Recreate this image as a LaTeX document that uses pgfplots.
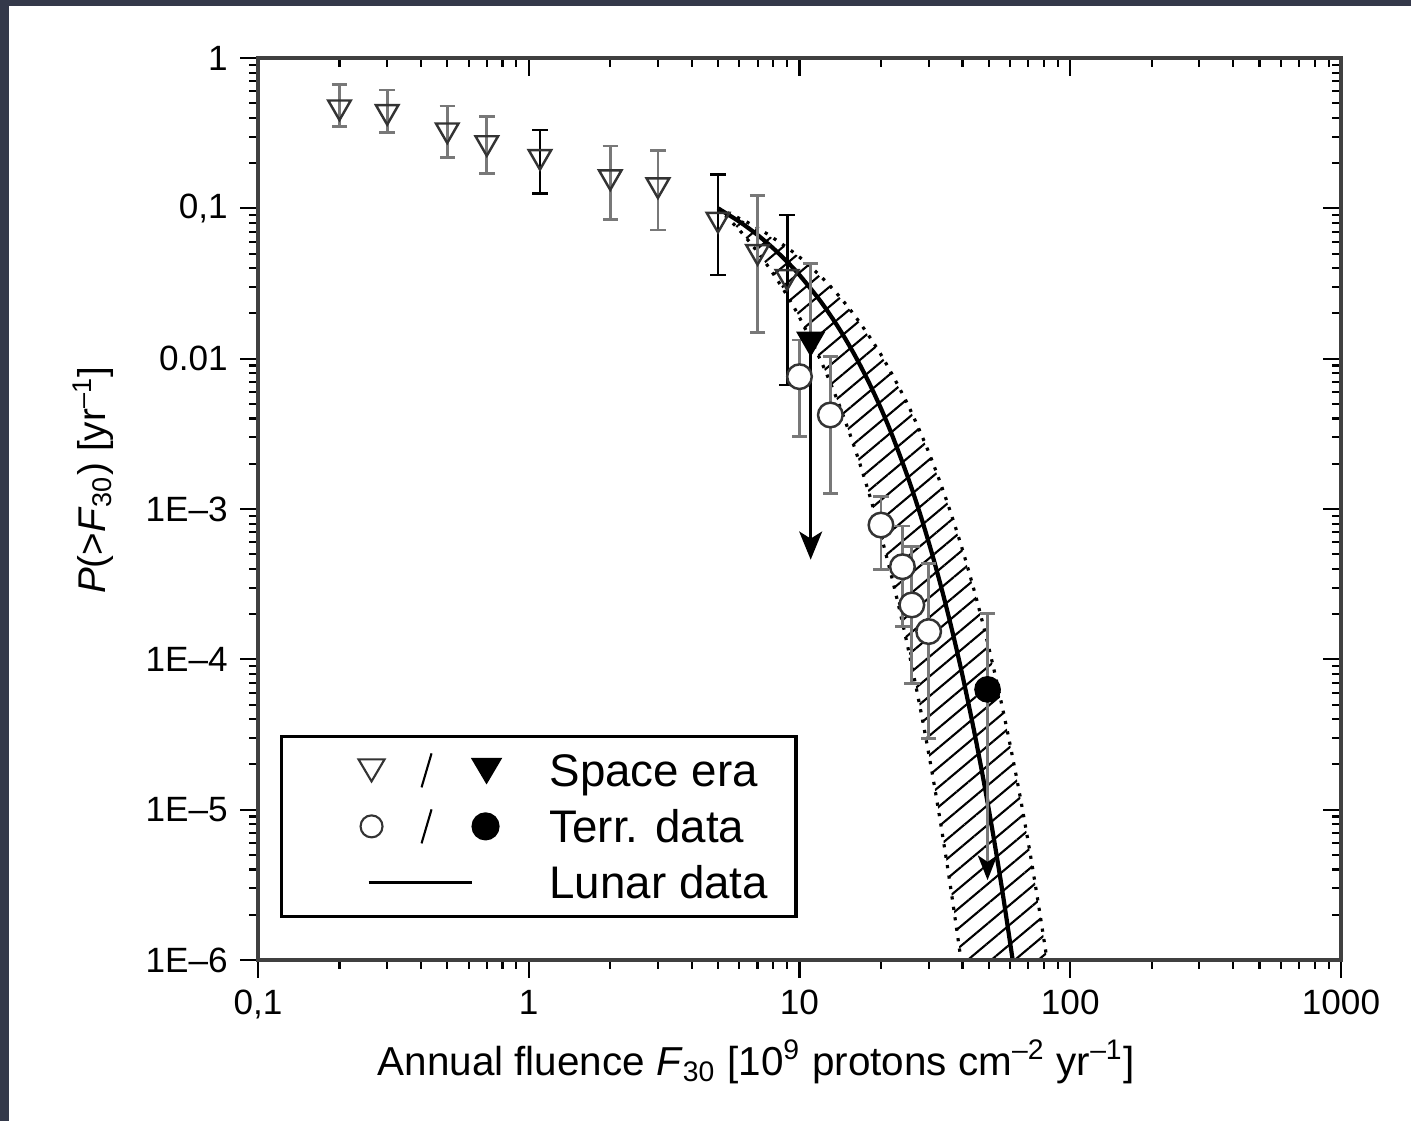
\documentclass[border=0pt]{standalone}
\usepackage{fontspec}
\setmainfont{Liberation Sans}
\usepackage{pgfplots}
\pgfplotsset{compat=1.18}
\usetikzlibrary{patterns.meta, arrows.meta}
\definecolor{bgdark}{RGB}{52,57,74}
\definecolor{errgray}{RGB}{120,120,120}

\begin{document}
\begin{tikzpicture}
\useasboundingbox (-2.58,-1.61) rectangle (11.53,9.60);
\fill[bgdark] (-2.58,-1.61) rectangle (11.53,9.60);
\fill[white] (-2.49,-1.61) rectangle (11.53,9.54);

\begin{axis}[
  at={(0,0)}, anchor=south west,
  scale only axis, width=10.83cm, height=9.02cm,
  xmode=log, ymode=log,
  xmin=0.1, xmax=1000, ymin=1e-6, ymax=1,
  xtick={0.1,1,10,100,1000},
  ytick={1e-6,1e-5,1e-4,1e-3,1e-2,1e-1,1},
  major tick length=1.8mm, minor tick length=0.9mm,
  tick style={black, line width=0.6pt},
  axis line style={black!75, line width=0.9pt},
  xticklabels={{0,1},1,10,100,1000},
  yticklabels={1E--6,1E--5,1E--4,1E--3,0.01,{0,1},1},
  xtick pos=left, ytick pos=left,
  tick align=outside,
  ticklabel style={font=\fontsize{10}{12}\selectfont},
  xlabel={Annual fluence \textit{F}\textsubscript{30} [10\textsuperscript{9} protons cm\textsuperscript{--2} yr\textsuperscript{--1}]},
  xlabel style={at={(axis description cs:0.46,-0.1275)}, anchor=base, font=\fontsize{11.5}{14}\selectfont},
  ylabel={\textit{P}(>\textit{F}\textsubscript{30}) [yr\textsuperscript{--1}]},
  ylabel style={at={(axis description cs:-0.152,0.532)}, anchor=center, font=\fontsize{11}{13}\selectfont},
  legend cell align=left,
  legend style={at={(0.0203,0.0466)}, anchor=south west, draw=black, line width=0.9pt, fill=white,
    inner xsep=0pt, inner ysep=0.06cm, row sep=0pt,
    font=\fontsize{13}{15}\selectfont,
    nodes={inner sep=0pt, text height=0.33cm, text depth=0pt}},
]

% hatched band
\addplot[forget plot, draw=none, pattern={Lines[angle=40, distance=4.3pt, line width=0.6pt]}] coordinates {
(5,0.1) (6,0.0716) (7,0.0513) (8,0.0367) (9,0.0263) (10,0.0188) (12,0.00966) (14,0.00495)
(16,0.00254) (18,0.00130) (20,6.68e-4) (22,3.43e-4) (24,1.76e-4) (26,9.02e-5) (28,4.62e-5)
(30,2.37e-5) (32,1.22e-5) (34,6.24e-6) (36,3.20e-6) (38,1.64e-6) (39.5,1e-6)
(82.1,1e-6) (80,1.36e-6) (75,2.86e-6) (70,6.05e-6) (65,1.28e-5) (60,2.69e-5) (55,5.69e-5)
(50,1.20e-4) (45,2.54e-4) (40,5.35e-4) (35,1.13e-3) (30,2.39e-3) (25,5.04e-3) (20,0.01063)
(16,0.0193) (13,0.0303) (10,0.0474) (7,0.0742) (5,0.1)
} -- cycle;

% dotted band edges
\addplot[forget plot, black, line width=0.9pt, dash pattern=on 0.9pt off 2.1pt, smooth] coordinates {
(5,0.1) (6,0.0716) (7,0.0513) (8,0.0367) (9,0.0263) (10,0.0188) (12,0.00966) (14,0.00495)
(16,0.00254) (18,0.00130) (20,6.68e-4) (22,3.43e-4) (24,1.76e-4) (26,9.02e-5) (28,4.62e-5)
(30,2.37e-5) (32,1.22e-5) (34,6.24e-6) (36,3.20e-6) (38,1.64e-6) (39.5,1e-6)};
\addplot[forget plot, black, line width=0.9pt, dash pattern=on 0.9pt off 2.1pt, smooth] coordinates {
(5,0.1) (7,0.0742) (10,0.0474) (13,0.0303) (16,0.0193) (20,0.01063) (25,5.04e-3) (30,2.39e-3)
(35,1.13e-3) (40,5.35e-4) (45,2.54e-4) (50,1.20e-4) (55,5.69e-5) (60,2.69e-5) (65,1.28e-5)
(70,6.05e-6) (75,2.86e-6) (80,1.36e-6) (82.1,1e-6)};

% lunar curve
\addplot[forget plot, black, line width=1.2pt, smooth] coordinates {
(5,0.1) (6,0.0815) (7,0.0665) (8,0.0542) (9,0.0441) (10,0.0360) (12,0.0239) (14,0.01588)
(16,0.01055) (18,0.00701) (20,0.00466) (22,0.00309) (25,0.00167) (28,9.07e-4) (31,4.91e-4)
(34,2.66e-4) (37,1.44e-4) (40,7.80e-5) (44,3.44e-5) (48,1.52e-5) (52,6.71e-6) (56,2.96e-6) (61.3,1e-6)};

% space era, gray error bars
\addplot[forget plot, only marks, mark=triangle, mark size=3.7pt,
  mark options={rotate=180, black!80, line width=0.7pt},
  error bars/.cd, y dir=both, y explicit,
  error bar style={errgray, line width=0.8pt},
  error mark options={rotate=90, errgray, mark size=2.2pt, line width=0.8pt}]
  table[x=x, y=y, y error plus=ep, y error minus=em] {
x y ep em
0.2 0.472 0.196 0.123
0.3 0.44 0.172 0.122
0.5 0.332 0.148 0.114
0.7 0.273 0.134 0.102
2 0.162 0.098 0.0775
3 0.143 0.098 0.0712
7 0.0515 0.0695 0.0366
};
% space era, black error bars
\addplot[forget plot, only marks, mark=triangle, mark size=3.7pt,
  mark options={rotate=180, black!80, line width=0.7pt},
  error bars/.cd, y dir=both, y explicit,
  error bar style={black, line width=0.8pt},
  error mark options={rotate=90, black, mark size=2.2pt, line width=0.8pt}]
  table[x=x, y=y, y error plus=ep, y error minus=em] {
x y ep em
1.1 0.221 0.111 0.095
5 0.0845 0.0825 0.0485
9 0.0351 0.0552 0.02842
};

% space era upper limit (filled)
\addplot[forget plot, black, line width=0.9pt, -{Stealth[length=8pt, width=6.5pt, inset=2pt]}]
  coordinates {(11,0.0133) (11,4.6e-4)};
\addplot[forget plot, only marks, mark=triangle*, mark size=4.4pt,
  mark options={rotate=180, black, fill=black},
  error bars/.cd, y dir=plus, y explicit,
  error bar style={errgray, line width=0.8pt},
  error mark options={rotate=90, errgray, mark size=2.2pt, line width=0.8pt}]
  table[x=x, y=y, y error plus=ep] {
x y ep
11 0.0133 0.0297
};

% terrestrial data
\addplot[forget plot, only marks, mark=*, mark size=3.5pt,
  mark options={black!80, fill=white, line width=0.7pt},
  error bars/.cd, y dir=both, y explicit,
  error bar style={errgray, line width=0.8pt},
  error mark options={rotate=90, errgray, mark size=2.2pt, line width=0.8pt}]
  table[x=x, y=y, y error plus=ep, y error minus=em] {
x y ep em
10 0.00759 0.0057 0.00456
13 0.00422 0.00608 0.00295
20 7.82e-4 4.28e-4 3.85e-4
24 4.13e-4 3.57e-4 2.48e-4
26 2.30e-4 3.3e-4 1.61e-4
30 1.53e-4 2.82e-4 1.232e-4
};

% terrestrial upper limit (filled)
\addplot[forget plot, errgray, line width=0.8pt, -{Stealth[length=7pt, width=5.5pt, inset=1.8pt, black]}]
  coordinates {(49.5,6.31e-5) (49.5,3.4e-6)};
\addplot[forget plot, only marks, mark=*, mark size=3.6pt,
  mark options={black, fill=black},
  error bars/.cd, y dir=plus, y explicit,
  error bar style={errgray, line width=0.8pt},
  error mark options={rotate=90, errgray, mark size=2.2pt, line width=0.8pt}]
  table[x=x, y=y, y error plus=ep] {
x y ep
49.5 6.31e-5 1.39e-4
};

% legend
\addlegendimage{legend image code/.code={
  \path[draw=none, fill=none] (0cm,-0.28cm) rectangle (2.68cm,0.28cm);
  \draw[black!80, line width=0.6pt] (0.77cm,0.11cm) -- (1.03cm,0.11cm) -- (0.90cm,-0.11cm) -- cycle;
  \draw[line width=0.6pt] (1.40cm,-0.17cm) -- (1.50cm,0.17cm);
  \fill (1.92cm,0.11cm) -- (2.18cm,0.11cm) -- (2.05cm,-0.11cm) -- cycle;
}}
\addlegendentry{Space era}
\addlegendimage{legend image code/.code={
  \path[draw=none, fill=none] (0cm,-0.28cm) rectangle (2.68cm,0.28cm);
  \draw[black!80, line width=0.6pt] (0.90cm,0cm) circle (0.11cm);
  \draw[line width=0.6pt] (1.40cm,-0.17cm) -- (1.50cm,0.17cm);
  \fill (2.04cm,0cm) circle (0.125cm);
}}
\addlegendentry{Terr. data}
\addlegendimage{legend image code/.code={
  \path[draw=none, fill=none] (0cm,-0.28cm) rectangle (2.68cm,0.28cm);
  \draw[line width=0.9pt] (0.87cm,0cm) -- (1.90cm,0cm);
}}
\addlegendentry{Lunar data\hspace*{0.28cm}}
\end{axis}

\begin{axis}[
  at={(0,0)}, anchor=south west,
  scale only axis, width=10.83cm, height=9.02cm,
  xmode=log, ymode=log,
  xmin=0.1, xmax=1000, ymin=1e-6, ymax=1,
  xtick={0.1,1,10,100,1000},
  ytick={1e-6,1e-5,1e-4,1e-3,1e-2,1e-1,1},
  major tick length=1.8mm, minor tick length=0.9mm,
  tick style={black, line width=0.6pt},
  axis line style={black!75, line width=0.9pt},
  xticklabels={}, yticklabels={},
  xtick pos=right, ytick pos=right,
  tick align=inside,
]
\addplot[draw=none] coordinates {(1,0.1)};
\end{axis}
\end{tikzpicture}
\end{document}
